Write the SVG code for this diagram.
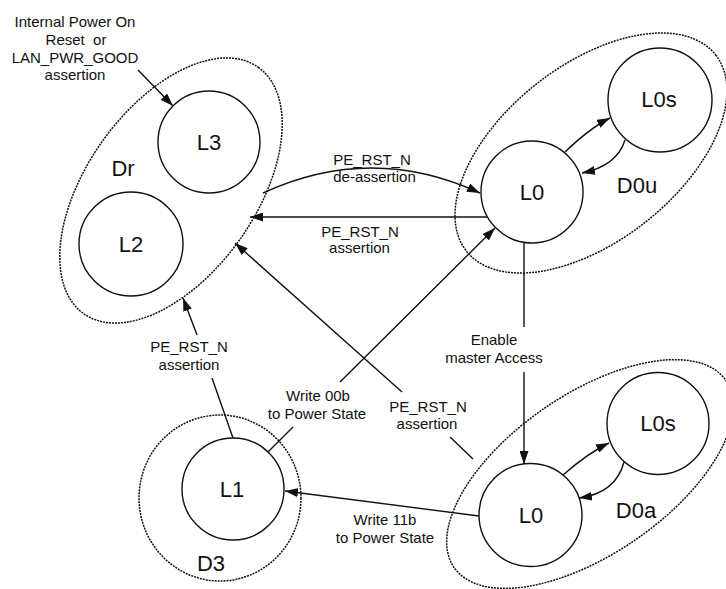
<svg xmlns="http://www.w3.org/2000/svg" width="726" height="589" viewBox="0 0 726 589">
<style>
.st{fill:none;stroke:#111;stroke-width:1.4}
.dom{fill:none;stroke:#111;stroke-width:1.5;stroke-dasharray:2 1}
.big{font-family:"Liberation Sans",Arial,sans-serif;font-size:22px;fill:#111;text-anchor:middle}
.sm{font-family:"Liberation Sans",Arial,sans-serif;font-size:15px;fill:#111;text-anchor:middle}
.cn{fill:none;stroke:#111;stroke-width:1.4;marker-end:url(#arr)}
</style>
<defs>
<marker id="arr" viewBox="0 0 13 9" refX="13" refY="4.5" markerWidth="13" markerHeight="9" orient="auto" markerUnits="userSpaceOnUse">
<path d="M0,0 L13,4.5 L0,9 z" fill="#111"/>
</marker>
</defs>
<rect width="726" height="589" fill="#fff"/>

<g id="Dr">
<ellipse class="dom" cx="0" cy="0" rx="151" ry="84.5" transform="translate(171,190.5) rotate(-54.7)"/>
<text class="big" x="123" y="176">Dr</text>
</g>
<g id="L3">
<circle class="st" cx="209" cy="142" r="51"/>
<text class="big" x="209" y="150">L3</text>
</g>
<g id="L2">
<circle class="st" cx="131" cy="244" r="52"/>
<text class="big" x="131" y="252">L2</text>
</g>

<g id="D0u">
<ellipse class="dom" cx="0" cy="0" rx="158.6" ry="88" transform="translate(591,153) rotate(-38.2)"/>
<text class="big" x="637" y="193">D0u</text>
</g>
<g id="L0u">
<circle class="st" cx="532" cy="192" r="51"/>
<text class="big" x="532" y="200">L0</text>
</g>
<g id="L0su">
<circle class="st" cx="660" cy="100" r="52"/>
<text class="big" x="659" y="107">L0s</text>
</g>

<g id="D0a">
<ellipse class="dom" cx="0" cy="0" rx="165" ry="80" transform="translate(590,474) rotate(-34.5)"/>
<text class="big" x="636" y="518">D0a</text>
</g>
<g id="L0a">
<circle class="st" cx="530.5" cy="515" r="51.5"/>
<text class="big" x="531" y="523">L0</text>
</g>
<g id="L0sa">
<circle class="st" cx="658" cy="423.5" r="51"/>
<text class="big" x="658" y="431">L0s</text>
</g>

<g id="D3">
<ellipse class="dom" cx="220" cy="498" rx="81" ry="83"/>
<text class="big" x="211" y="571">D3</text>
</g>
<g id="L1">
<circle class="st" cx="233" cy="489" r="51"/>
<text class="big" x="232" y="497">L1</text>
</g>

<g id="connectors">
<path class="cn" d="M138,70 L173,106"/>
<path class="cn" d="M263,193 Q371.5,143 480,193"/>
<path class="cn" d="M487,217 L250,217"/>
<path class="cn" d="M268,452 L293,427 M340,382 L495,228"/>
<path class="cn" d="M233,438 L212,378 M197,335 L183,298"/>
<path class="cn" d="M473,459 L450,437 M402,392 L235,243"/>
<path class="cn" d="M524,242.5 L524,327 M524,372 L524,464"/>
<path class="cn" d="M479,516 L285,491"/>
<path class="cn" d="M565,152 Q590,128 610,118"/>
<path class="cn" d="M625,140 Q617,166 582,173"/>
<path class="cn" d="M563,475 Q588,453 609,443"/>
<path class="cn" d="M624,462 Q616,493 579,498"/>
</g>

<g id="labels">
<text class="sm" x="75" y="27">Internal Power On</text>
<text class="sm" x="76" y="44.8" xml:space="preserve">Reset  or</text>
<text class="sm" x="75" y="62.5">LAN_PWR_GOOD</text>
<text class="sm" x="75" y="80.3">assertion</text>
<text class="sm" x="372" y="165">PE_RST_N</text>
<text class="sm" x="374.5" y="181.7">de-assertion</text>
<text class="sm" x="360" y="236.7">PE_RST_N</text>
<text class="sm" x="359.5" y="253">assertion</text>
<text class="sm" x="189" y="352.3">PE_RST_N</text>
<text class="sm" x="189" y="370">assertion</text>
<text class="sm" x="318" y="400.5">Write 00b</text>
<text class="sm" x="317" y="418.5">to Power State</text>
<text class="sm" x="428" y="411.7">PE_RST_N</text>
<text class="sm" x="427" y="429.3">assertion</text>
<text class="sm" x="494" y="345">Enable</text>
<text class="sm" x="494" y="362.5">master Access</text>
<text class="sm" x="385" y="525">Write 11b</text>
<text class="sm" x="385" y="542.5">to Power State</text>
</g>
</svg>
